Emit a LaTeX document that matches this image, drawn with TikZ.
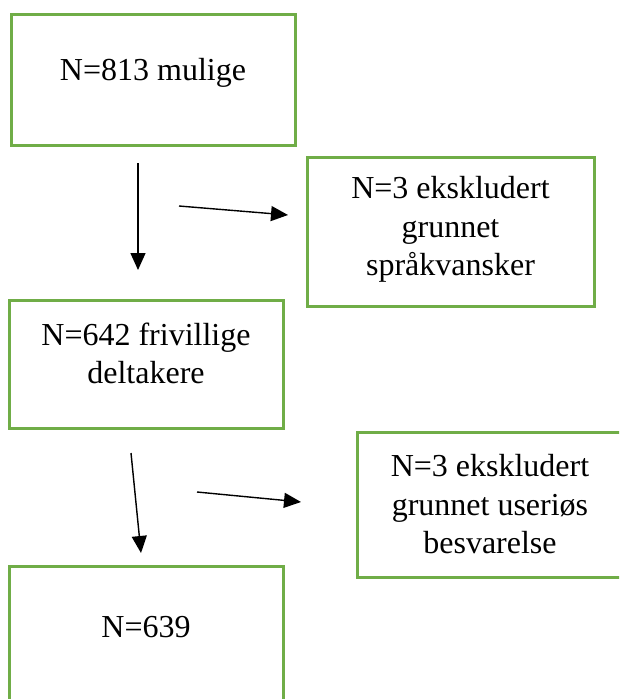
\documentclass[tikz,border=0pt]{standalone}
\usepackage{fontspec}
\setmainfont{Liberation Serif}
\usetikzlibrary{arrows.meta, positioning}
\definecolor{BoxGreen}{HTML}{70AD47}

\begin{document}
\begin{tikzpicture}[x=1pt, y=-1pt, every node/.style={black, font=\fontsize{32}{38.5}\selectfont},
	box/.style={draw=BoxGreen, line width=3pt, inner sep=0pt},
	txt/.style={align=center, inner sep=0pt, anchor=north},
	pil/.style={line width=1.4pt, -{Triangle[length=17pt, width=15pt]}}]
			\clip (0, 0) rectangle (619, 699);
			
			% boxes
			\node[box, minimum width=284, minimum height=131] (mulige) at (153, 79.5) {};
			\node[box, minimum width=287, minimum height=149] (sprak) at (450.5, 231.5) {};
			\node[box, minimum width=274, minimum height=128] (frivillige) at (146, 364) {};
			\node[box, minimum width=266, minimum height=145] (userios) at (490, 504.5) {};
			\node[box, minimum width=274, minimum height=160] (endelig) at (146, 646) {};
			
			% texts
			\node[txt, below=46pt of mulige.north] (muligetxt) {N=813 mulige};
			\node[txt, below=21pt of sprak.north] (spraktxt) {N=3 ekskludert\\ grunnet\\ språkvansker};
			\node[txt, below=24pt of frivillige.north] (frivilligetxt) {N=642 frivillige\\ deltakere};
			\node[txt, below=24pt of userios.north] (useriostxt) {N=3 ekskludert\\ grunnet useriøs\\ besvarelse};
			\node[txt, below=52pt of endelig.north] (endeligtxt) {N=639};
			
			% arrows
			\coordinate (ned1a) at (138, 163);
			\coordinate (ned1b) at (138, 270);
			\coordinate (ut1a) at (179, 206);
			\coordinate (ut1b) at (288, 215);
			\coordinate (ned2a) at (131, 453);
			\coordinate (ned2b) at (141, 553);
			\coordinate (ut2a) at (197, 492);
			\coordinate (ut2b) at (301, 502);
			\draw[pil] (ned1a) -- (ned1b);
			\draw[pil] (ut1a) -- (ut1b);
			\draw[pil] (ned2a) -- (ned2b);
			\draw[pil] (ut2a) -- (ut2b);
		\end{tikzpicture}
\end{document}
